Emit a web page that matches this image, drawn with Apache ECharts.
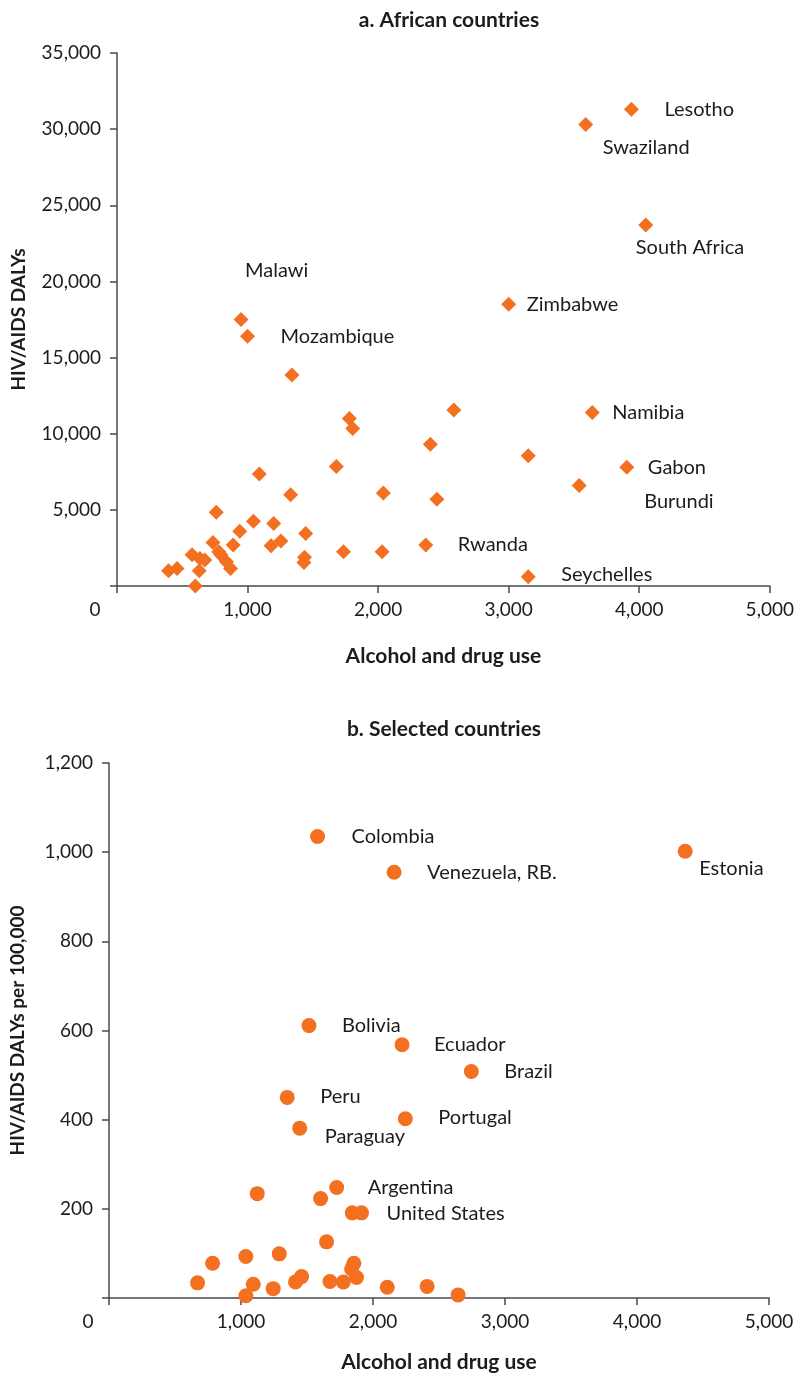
<!DOCTYPE html>
<html><head><meta charset="utf-8">
<script src="https://cdn.jsdelivr.net/npm/echarts@6/dist/echarts.min.js"></script>
<style>html,body{margin:0;padding:0;background:#fff}#c{width:797px;height:1375px}</style>
</head><body><div id="c"></div>
<script>
// ---- Panel a: African countries ----
const africaNames = ['Lesotho','Swaziland','South Africa','Zimbabwe','Malawi','Mozambique','','','','','Namibia','','','Gabon','','','','','Burundi','','','','','','','','','','','','','Rwanda','','','','','','','','','','','','','','Seychelles'];
const africaX = [3940,3590,4050,3000,950,1000,1340,1780,1805,2580,3640,2400,3150,3905,1680,1090,1330,2040,3540,2450,760,1045,1200,940,1445,735,890,1180,1255,1735,2030,2365,575,635,672,780,795,838,870,395,460,630,600,1436,1432,3150];
const africaY = [31300,30300,23700,18500,17500,16400,13850,11000,10350,11550,11400,9300,8550,7800,7850,7350,6000,6100,6600,5700,4850,4250,4100,3600,3450,2850,2700,2650,2950,2250,2250,2700,2050,1800,1700,2250,2050,1600,1150,1000,1150,1000,0,1880,1550,600];
const africaXTicks = [0,1000,2000,3000,4000,5000];
const africaYTicks = [0,5000,10000,15000,20000,25000,30000,35000];

// ---- Panel b: Selected countries ----
const selNames = ['Colombia','Venezuela, RB.','Estonia','Bolivia','Ecuador','Brazil','Portugal','Peru','Paraguay','Argentina','','','','United States','','','','','','','','','','','','','','','','','',''];
const selX = [1580,2160,4365,1515,2220,2745,2245,1350,1445,1725,1603,1123,1843,1913,1648,671,785,1037,1290,1093,1037,1244,1413,1459,1674,1775,1855,1838,1875,2108,2410,2645];
const selY = [1035,955,1002,611,568,508,402,450,381,248,223,234,191,191,126,34,78,93,99,31,5,21,36,48,37,36,78,65,46,24,26,7];
const selXTicks = [0,1000,2000,3000,4000,5000];
const selYTicks = [0,200,400,600,800,1000,1200];

// label placements (styling, kept apart from the data)
const labelOffsetA = {
  'Lesotho':[33,0],'Swaziland':[17,23],'South Africa':[-10,22],'Zimbabwe':[18,0],
  'Malawi':[4,-49],'Mozambique':[33,0],'Namibia':[20,0],'Gabon':[21,0],
  'Burundi':[65,16],'Rwanda':[32,0],'Seychelles':[33,-2]
};
const labelOffsetB = {
  'Colombia':[34,0],'Venezuela, RB.':[33,0],'Estonia':[14,17],'Bolivia':[33,0],
  'Ecuador':[32,0],'Brazil':[33,0],'Portugal':[33,-1],'Peru':[33,-1],
  'Paraguay':[25,8],'Argentina':[31,0],'United States':[25,1]
};

const ORANGE = '#F37021';
const TXT = '#1e1b1c';
const AX = '#4a4a4a';
const FONT = 'Lato';

function buildData(names, xs, ys, offsets) {
  return xs.map((x, i) => {
    const n = names[i] || '';
    const item = { name: n, value: [x, ys[i]] };
    if (n && offsets[n]) {
      item.label = { show: true, position: 'inside', align: 'left', verticalAlign: 'middle',
        offset: offsets[n], formatter: n, color: TXT, fontSize: 20, fontFamily: FONT };
    }
    return item;
  });
}
const fmt = v => v.toLocaleString('en-US');

function xAxisCfg(idx, ticks, zeroPad, gap) {
  return {
    gridIndex: idx, type: 'value', min: ticks[0], max: ticks[ticks.length - 1],
    interval: ticks[1] - ticks[0],
    name: 'Alcohol and drug use', nameLocation: 'middle', nameGap: gap,
    nameTextStyle: { fontFamily: FONT, fontWeight: 'bold', fontSize: 21, color: TXT },
    axisLine: { show: true, lineStyle: { color: AX, width: 1.5 } },
    axisTick: { show: true, length: 7, lineStyle: { color: AX, width: 1.5 } },
    axisLabel: { margin: 14, fontFamily: FONT, fontSize: 19, color: TXT,
      formatter: v => v === 0 ? '{z|0}' : fmt(v),
      rich: { z: { fontFamily: FONT, fontSize: 19, color: TXT, padding: [0, zeroPad, 0, 0] } } },
    splitLine: { show: false }
  };
}
function yAxisCfg(idx, ticks, name, gap, margin) {
  return {
    gridIndex: idx, type: 'value', min: ticks[0], max: ticks[ticks.length - 1],
    interval: ticks[1] - ticks[0],
    name: name, nameLocation: 'middle', nameGap: gap,
    nameTextStyle: { fontFamily: FONT, fontWeight: 'bold', fontSize: 19, color: TXT },
    axisLine: { show: true, lineStyle: { color: AX, width: 1.5 } },
    axisTick: { show: true, length: 7, lineStyle: { color: AX, width: 1.5 } },
    axisLabel: { margin: margin, fontFamily: FONT, fontSize: 19, color: TXT,
      formatter: v => v === 0 ? '' : fmt(v) },
    splitLine: { show: false }
  };
}

const chart = echarts.init(document.getElementById('c'), null, { renderer: 'canvas' });
chart.setOption({
  animation: false,
  backgroundColor: '#ffffff',
  title: [
    { text: 'a. African countries', left: 444, top: 5, textAlign: 'center',
      textStyle: { fontFamily: FONT, fontWeight: 'bold', fontSize: 21, color: TXT } },
    { text: 'b. Selected countries', left: 439, top: 714, textAlign: 'center',
      textStyle: { fontFamily: FONT, fontWeight: 'bold', fontSize: 21, color: TXT } }
  ],
  grid: [
    { left: 117, right: 25, top: 53, height: 533, containLabel: false },
    { left: 109, right: 28, top: 763, height: 535, containLabel: false }
  ],
  xAxis: [ xAxisCfg(0, africaXTicks, 44, 60), xAxisCfg(1, selXTicks, 42, 54) ],
  yAxis: [ yAxisCfg(0, africaYTicks, 'HIV/AIDS DALYs', 89, 16),
           yAxisCfg(1, selYTicks, 'HIV/AIDS DALYs per 100,000', 82, 16) ],
  series: [
    { type: 'scatter', xAxisIndex: 0, yAxisIndex: 0, symbol: 'diamond', symbolSize: 15,
      itemStyle: { color: ORANGE, opacity: 1 }, label: { show: false },
      data: buildData(africaNames, africaX, africaY, labelOffsetA) },
    { type: 'scatter', xAxisIndex: 1, yAxisIndex: 1, symbol: 'circle', symbolSize: 15,
      itemStyle: { color: ORANGE, opacity: 1 }, label: { show: false },
      data: buildData(selNames, selX, selY, labelOffsetB) }
  ]
});
</script></body></html>
